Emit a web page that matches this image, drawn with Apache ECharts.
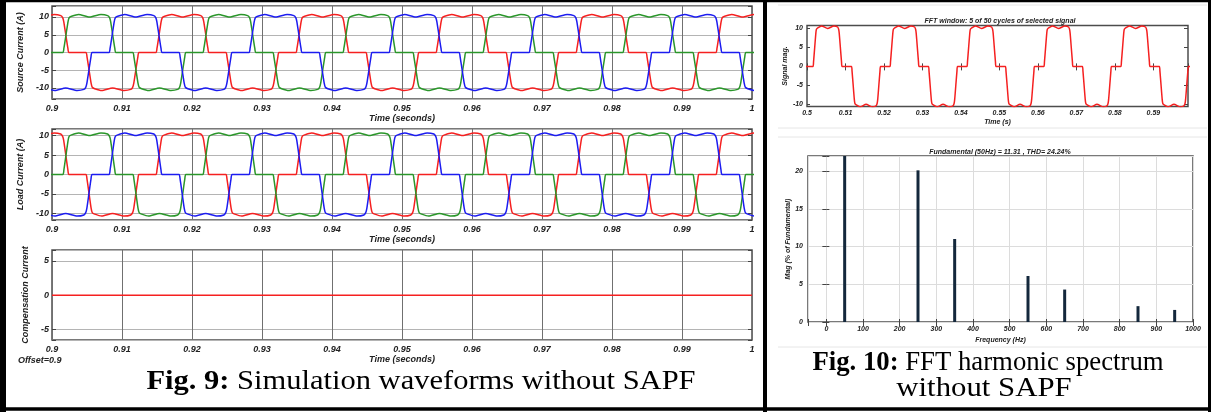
<!DOCTYPE html>
<html>
<head>
<meta charset="utf-8">
<script src="https://cdn.jsdelivr.net/npm/echarts@6/dist/echarts.min.js"></script>
<style>
html, body { margin: 0; padding: 0; background: #fff; }
#chart { width: 1211px; height: 412px; }
</style>
</head>
<body>
<div id="chart"></div>
<script>
// one period of a phase current, ms from the middle of its rising edge
var periodMs  = [-0.45, -0.3, 0, 0.3, 0.45, 0.8, 1.8, 3.35, 5.0, 5.95, 6.22, 6.37, 6.67, 6.97, 7.12,
                 9.55, 9.7, 10.0, 10.3, 10.45, 10.8, 11.8, 13.35, 15.0, 15.95, 16.22, 16.37, 16.67, 16.97, 17.12, 19.55];
var periodVal = [0, 1.2, 5, 8.8, 9.8, 10.2, 10.7, 10.0, 10.7, 10.4, 9.8, 8.8, 5, 1.2, 0,
                 0, -1.2, -5, -8.8, -9.8, -10.2, -10.7, -10.0, -10.7, -10.4, -9.8, -8.8, -5, -1.2, 0, 0];

// middle of each rising edge (s)
var redRise   = [0.8953, 0.9153, 0.9353, 0.9553, 0.9753, 0.9953];
var greenRise = [0.8820, 0.9020, 0.9220, 0.9420, 0.9620, 0.9820];
var blueRise  = [0.8886, 0.9086, 0.9286, 0.9486, 0.9686, 0.9886];
var windowRise = [0.4820, 0.5020, 0.5220, 0.5420, 0.5620, 0.5820];

// compensation current (flat zero)
var compTime = [0.9, 1.0];
var compVal  = [0, 0];

// harmonic spectrum
var harmonicFreq = [50, 250, 350, 550, 650, 850, 950];
var harmonicMag  = [100, 20.1, 11.0, 6.1, 4.3, 2.1, 1.6];

function waveData(rises) {
    var out = [];
    rises.forEach(function (r) {
        for (var i = 0; i < periodMs.length; i++) {
            out.push([r + periodMs[i] / 1000, periodVal[i]]);
        }
    });
    return out;
}

var FONT = 'Liberation Sans';
function lbl(size, extra) {
    var o = { fontFamily: FONT, fontWeight: 'bold', fontStyle: 'italic', fontSize: size, color: '#222' };
    for (var k in extra) o[k] = extra[k];
    return o;
}
function every5(v) {
    return Math.abs(v - Math.round(v / 5) * 5) < 1e-6 ? String(Math.round(v)) : '';
}

// left side: three time plots
function timeX(g) {
    return {
        type: 'value', gridIndex: g, min: 0.9, max: 1, interval: 0.01,
        axisLine: { show: false }, axisTick: { show: false },
        axisLabel: lbl(9, { margin: 5 }),
        splitLine: { show: true, lineStyle: { color: '#707070', width: 1 } },
        name: 'Time (seconds)', nameLocation: 'middle', nameGap: 14,
        nameTextStyle: lbl(9)
    };
}
function leftY(g, min, max, name, gap, split) {
    return {
        type: 'value', gridIndex: g, min: min, max: max, splitNumber: split,
        axisLine: { show: false },
        axisTick: { show: true, inside: true, length: 4, lineStyle: { color: '#444' } },
        axisLabel: lbl(9, { margin: 3, formatter: every5 }),
        splitLine: { show: true, lineStyle: { color: '#b4b4b4', width: 1 } },
        name: name, nameLocation: 'middle', nameGap: gap,
        nameTextStyle: lbl(9)
    };
}
function tickOnly(g, pos, min, max, split) {
    return {
        type: 'value', gridIndex: g, position: pos, min: min, max: max, splitNumber: split,
        axisLine: { show: false }, axisLabel: { show: false }, splitLine: { show: false },
        axisTick: { show: true, inside: true, length: 4, lineStyle: { color: '#444' } }
    };
}

function lineSeries(xi, yi, data, color) {
    return {
        type: 'line', xAxisIndex: xi, yAxisIndex: yi, data: data,
        showSymbol: false, smooth: 0.2, clip: true,
        lineStyle: { color: color, width: 1.5 }, animation: false
    };
}

var grids = [
    { left: 52, top: 6, width: 700, height: 93 },
    { left: 52, top: 129, width: 700, height: 91 },
    { left: 52, top: 250, width: 700, height: 90 },
    { left: 807, top: 25.5, width: 381, height: 81 },
    { left: 808, top: 156, width: 385, height: 166 }
].map(function (g) {
    g.show = true; g.borderColor = '#4d4d4d'; g.borderWidth = 1.5;
    return g;
});

var xAxes = [
    timeX(0), timeX(1), timeX(2),
    {
        type: 'value', gridIndex: 3, min: 0.5, max: 0.599, interval: 0.01,
        axisLine: { show: false },
        axisTick: { show: true, inside: true, length: 3, lineStyle: { color: '#444' } },
        axisLabel: lbl(7, { margin: 3, formatter: function (v) { return v > 0.5951 ? '' : String(+v.toFixed(2)); } }),
        splitLine: { show: false },
        name: 'Time (s)', nameLocation: 'middle', nameGap: 12, nameTextStyle: lbl(7)
    },
    {
        type: 'value', gridIndex: 4, min: -50, max: 1000, splitNumber: 10,
        axisLine: { show: false },
        axisTick: { show: true, inside: true, length: 3, lineStyle: { color: '#444' } },
        axisLabel: lbl(7, { margin: 4, formatter: function (v) { return v < 0 ? '' : String(v); } }),
        splitLine: { show: true, lineStyle: { color: '#dcdcdc', width: 1 } },
        name: 'Frequency (Hz)', nameLocation: 'middle', nameGap: 15, nameTextStyle: lbl(7)
    },
    tickOnly(3, 'top', 0.5, 0.599, 10),
    tickOnly(4, 'top', -50, 1000, 10)
];
xAxes[5].interval = 0.01;

var yAxes = [
    leftY(0, -13.1, 13.1, 'Source Current (A)', 19, 5), tickOnly(0, 'right', -13.1, 13.1, 5),
    leftY(1, -11.7, 11.7, 'Load Current (A)', 16, 5), tickOnly(1, 'right', -11.7, 11.7, 5),
    leftY(2, -6.5, 6.6, 'Compensation Current', 16, 2), tickOnly(2, 'right', -6.5, 6.6, 2),
    {
        type: 'value', gridIndex: 3, min: -10.6, max: 10.8,
        axisLine: { show: false },
        axisTick: { show: true, inside: true, length: 3, lineStyle: { color: '#444' } },
        axisLabel: lbl(7, { margin: 4, formatter: every5 }),
        splitLine: { show: false },
        name: 'Signal mag.', nameLocation: 'middle', nameGap: 14, nameTextStyle: lbl(7)
    },
    tickOnly(3, 'right', -10.6, 10.8, 5),
    {
        type: 'value', gridIndex: 4, min: 0, max: 22, interval: 5,
        axisLine: { show: false },
        axisTick: { show: true, inside: true, length: 3, lineStyle: { color: '#444' } },
        axisLabel: lbl(7, { margin: 5, formatter: function (v) { return v > 20 ? '' : String(v); } }),
        splitLine: { show: true, lineStyle: { color: '#dcdcdc', width: 1 } },
        name: 'Mag (% of Fundamental)', nameLocation: 'middle', nameGap: 14, nameTextStyle: lbl(7)
    },
    tickOnly(4, 'right', 0, 22, 5)
];
yAxes[9].interval = 5;

var RED = '#f52020', GREEN = '#2a962a', BLUE = '#1c1cf0';

var series = [
    lineSeries(0, 0, waveData(redRise), RED),
    lineSeries(0, 0, waveData(greenRise), GREEN),
    lineSeries(0, 0, waveData(blueRise), BLUE),
    lineSeries(1, 2, waveData(redRise), RED),
    lineSeries(1, 2, waveData(greenRise), GREEN),
    lineSeries(1, 2, waveData(blueRise), BLUE),
    lineSeries(2, 4, compTime.map(function (t, i) { return [t, compVal[i]]; }), RED),
    lineSeries(3, 6, waveData(windowRise), RED),
    {
        type: 'bar', xAxisIndex: 4, yAxisIndex: 8, barWidth: 3, clip: true, animation: false,
        itemStyle: { color: '#14283c' },
        data: harmonicFreq.map(function (f, i) { return [f, harmonicMag[i]]; })
    }
];

var serif = 'Liberation Serif';
function caption(x, y, text, sx) {
    return {
        type: 'text', x: x, y: y, scaleX: sx,
        style: {
            text: text, align: 'center', verticalAlign: 'middle',
            rich: {
                b: { fontFamily: serif, fontWeight: 'bold', fontSize: 27, fill: '#000' },
                n: { fontFamily: serif, fontSize: 27, fill: '#000' }
            }
        }
    };
}
var graphics = [
    // table frame
    { type: 'line', shape: { x1: 3, y1: 0, x2: 3, y2: 412 }, style: { stroke: '#000', lineWidth: 6 } },
    { type: 'line', shape: { x1: 0, y1: 1, x2: 1211, y2: 1 }, style: { stroke: '#000', lineWidth: 2.5 } },
    { type: 'line', shape: { x1: 0, y1: 409, x2: 1211, y2: 409 }, style: { stroke: '#000', lineWidth: 3.5 } },
    { type: 'line', shape: { x1: 765, y1: 0, x2: 765, y2: 412 }, style: { stroke: '#000', lineWidth: 4 } },
    { type: 'line', shape: { x1: 1209.5, y1: 0, x2: 1209.5, y2: 412 }, style: { stroke: '#000', lineWidth: 3 } },
    // faint screenshot edges on the right
    { type: 'line', shape: { x1: 778, y1: 5, x2: 1207, y2: 5 }, style: { stroke: '#e6e6e6', lineWidth: 1 } },
    { type: 'line', shape: { x1: 778, y1: 128, x2: 1207, y2: 128 }, style: { stroke: '#e6e6e6', lineWidth: 1 } },
    { type: 'line', shape: { x1: 778, y1: 137, x2: 1207, y2: 137 }, style: { stroke: '#e6e6e6', lineWidth: 1 } },
    { type: 'line', shape: { x1: 778, y1: 347, x2: 1207, y2: 347 }, style: { stroke: '#e6e6e6', lineWidth: 1 } },
    // plot titles
    { type: 'text', x: 1000, y: 21, style: { text: 'FFT window: 5 of 50 cycles of selected signal', align: 'center', verticalAlign: 'middle', fontFamily: FONT, fontWeight: 'bold', fontStyle: 'italic', fontSize: 7, fill: '#222' } },
    { type: 'text', x: 1000, y: 152, style: { text: 'Fundamental (50Hz) = 11.31 , THD= 24.24%', align: 'center', verticalAlign: 'middle', fontFamily: FONT, fontWeight: 'bold', fontStyle: 'italic', fontSize: 7, fill: '#222' } },
    { type: 'text', x: 18, y: 361, style: { text: 'Offset=0.9', align: 'left', verticalAlign: 'middle', fontFamily: FONT, fontWeight: 'bold', fontStyle: 'italic', fontSize: 9, fill: '#222' } },
    // captions
    caption(421, 382, '{b|Fig. 9:}{n| Simulation waveforms without SAPF}', 1.13),
    caption(988, 363, '{b|Fig. 10:}{n| FFT harmonic spectrum}', 0.99),
    caption(984, 389, '{n|without SAPF}', 1.14)
];

var chart = echarts.init(document.getElementById('chart'));
chart.setOption({
    animation: false,
    backgroundColor: '#fff',
    grid: grids,
    xAxis: xAxes,
    yAxis: yAxes,
    series: series,
    graphic: graphics
});
</script>
</body>
</html>
